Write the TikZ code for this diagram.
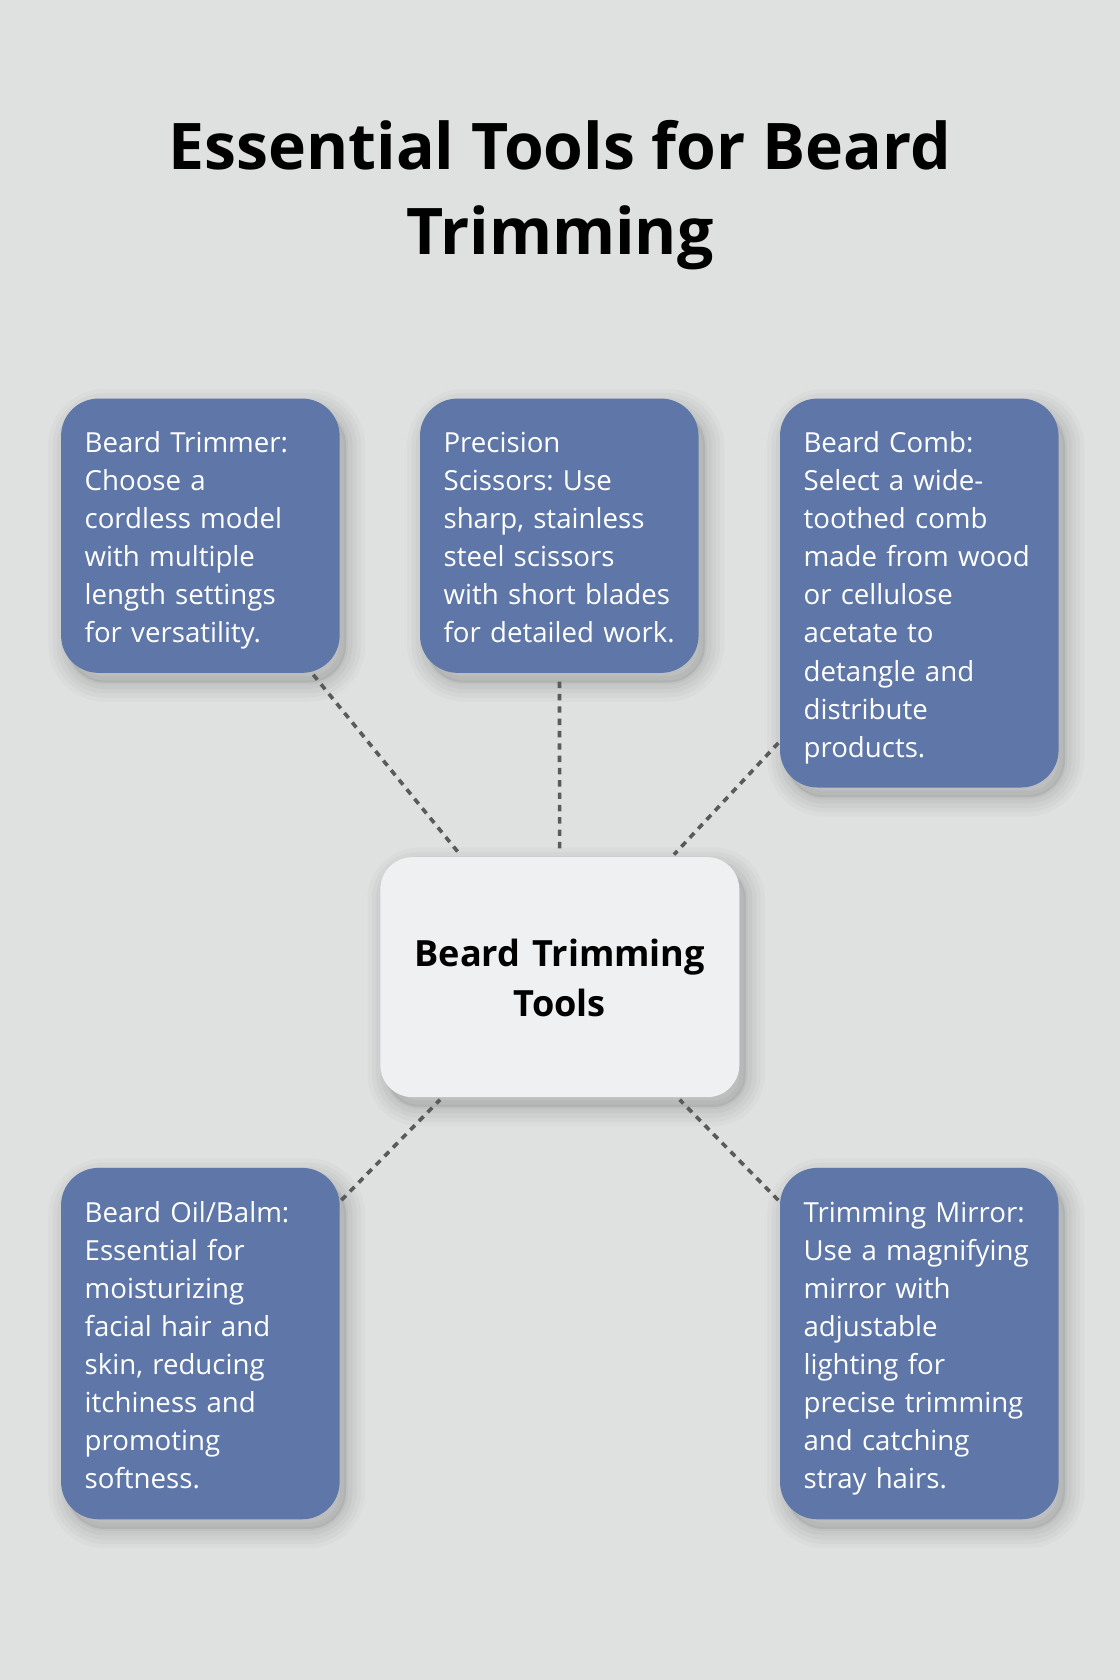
\documentclass[tikz,border=0pt]{standalone}
\usepackage{fontspec}
\setmainfont{Open Sans}
\frenchspacing
\definecolor{bg}{HTML}{DFE1E0}
\definecolor{boxblue}{HTML}{5E77A8}
\definecolor{hubfill}{HTML}{EFF0F2}
\definecolor{dashgray}{HTML}{5A5A5A}
\newcommand\boxlines[1]{\raisebox{-4pt}[\height][\depth]{\begin{tabular}{@{}l@{}}#1\end{tabular}}}
\newcommand\hublines[1]{\raisebox{-4pt}[\height][\depth]{\begin{tabular}{@{}c@{}}#1\end{tabular}}}
\tikzset{
  softshadow/.style={
    preaction={draw=black, draw opacity=0.018, line width=36pt, transform canvas={shift={(6,9)}}},
    preaction={draw=black, draw opacity=0.022, line width=28pt, transform canvas={shift={(6,9)}}},
    preaction={draw=black, draw opacity=0.026, line width=20pt, transform canvas={shift={(6,9)}}},
    preaction={draw=black, draw opacity=0.03, line width=12pt, transform canvas={shift={(6,9)}}},
    preaction={draw=black, draw opacity=0.03, line width=4pt, fill=black, fill opacity=0.08, transform canvas={shift={(6,9)}}}},
  tool/.style={softshadow, rounded corners=35pt, fill=boxblue, text=white, minimum width=260pt,
    text width=216pt, inner xsep=22pt, inner ysep=0pt, align=left,
    font=\fontsize{25.8}{35.5}\selectfont},
  hub/.style={softshadow, rounded corners=30pt, fill=hubfill, text=black, minimum width=335pt,
    minimum height=224pt, text width=300pt, align=center, inner sep=0pt,
    font=\fontsize{33.7}{47}\selectfont\bfseries},
  link/.style={draw=dashgray, line width=3.4pt, dash pattern=on 6pt off 5.5pt, shorten <=2pt, shorten >=3pt}
}
\begin{document}
\begin{tikzpicture}[x=1pt,y=-1pt]
\fill[bg] (0,0) rectangle (1045,1568);
\useasboundingbox (0,0) rectangle (1045,1568);
\node[font=\fontsize{60}{80}\selectfont\bfseries, align=center] (title) at (522.5,182)
  {Essential Tools for Beard\\Trimming};
\node[tool, minimum height=256pt] (trim) at (187,500)
  {\boxlines{Beard Trimmer:\\Choose a\\cordless model\\with multiple\\length settings\\for versatility.}};
\node[tool, minimum height=256pt] (sciss) at (522,500)
  {\boxlines{Precision\\Scissors: Use\\sharp, stainless\\steel scissors\\with short blades\\for detailed work.}};
\node[tool, minimum height=363pt] (comb) at (858,553.5)
  {\boxlines{Beard Comb:\\Select a wide-\\toothed comb\\made from wood\\or cellulose\\acetate to\\detangle and\\distribute\\products.}};
\node[tool, minimum height=328pt] (oil) at (187,1254)
  {\boxlines{Beard Oil/Balm:\\Essential for\\moisturizing\\facial hair and\\skin, reducing\\itchiness and\\promoting\\softness.}};
\node[tool, minimum height=328pt] (mirror) at (858,1254)
  {\boxlines{Trimming Mirror:\\Use a magnifying\\mirror with\\adjustable\\lighting for\\precise trimming\\and catching\\stray hairs.}};
\node[hub] (center) at (522.5,912) {\hublines{Beard Trimming\\Tools}};
\draw[link] (trim) -- (center);
\draw[link, shorten <=8pt] (sciss) -- (center);
\draw[link] (comb) -- (center);
\draw[link] (oil) -- (center);
\draw[link] (mirror) -- (center);
\end{tikzpicture}
\end{document}
